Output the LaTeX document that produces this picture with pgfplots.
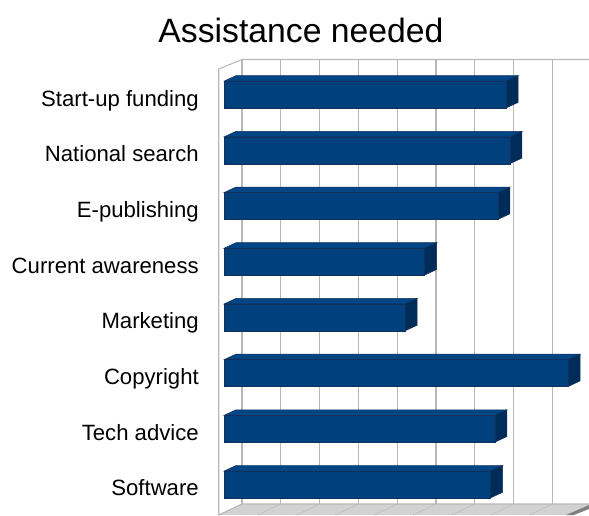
\documentclass[border=0pt]{standalone}
\usepackage{fontspec}
\setmainfont{Liberation Sans}
\usepackage{pgfplots}
\pgfplotsset{compat=1.18}
\definecolor{barfront}{HTML}{00407D}
\definecolor{bartop}{HTML}{004586}
\definecolor{barside}{HTML}{002C5A}
\definecolor{baredge}{HTML}{14305A}
\definecolor{wallline}{HTML}{B8B8B8}
\definecolor{floorfill}{HTML}{D2D2D2}
\definecolor{floorline}{HTML}{BEBEBE}
\definecolor{floordark}{HTML}{808080}
\pgfplotsset{
  topface/.style={fill=bartop,draw=baredge,line width=0.4pt},
  sideface/.style={fill=barside,draw=baredge,line width=0.4pt},
}
\begin{document}
\begin{tikzpicture}
\useasboundingbox (-163.5pt,0pt) rectangle (278.25pt,386.25pt);
\begin{axis}[
	scale only axis,
	width=278.25pt, height=342pt,
	xmin=-0.155, xmax=9.407,
	ymin=-0.548, ymax=7.639,
	axis line style={draw=none},
	major tick length=0pt,
	xtick={0.464,1.464,2.464,3.464,4.464,5.464,6.464,7.464,8.464},
	xticklabels={},
	xmajorgrids,
	grid style={wallline,line width=1pt},
	ytick={0,1,2,3,4,5,6,7},
	yticklabels={Software,Tech advice,Copyright,Marketing,Current awareness,E-publishing,National search,Start-up funding},
	typeset ticklabels with strut,
	yticklabel style={font=\fontsize{16.6}{20}\selectfont,inner sep=0pt,xshift=-14.25pt,yshift=-4.6pt},
	title={Assistance needed},
	title style={font=\fontsize{25.3}{30}\selectfont,at={(0.2237,1)},anchor=base,yshift=6pt,inner sep=0pt},
]
% floor and walls
\addplot[fill=floorfill,draw=none] coordinates {(-0.155,-0.548) (0.464,-0.35) (9.407,-0.35) (9.407,-0.386) (8.866,-0.548)} --cycle;
\addplot[fill=floordark,draw=none] coordinates {(8.815,-0.548) (9.407,-0.369) (9.407,-0.44) (9.02,-0.548)} --cycle;
\addplot[floorline,line width=0.5pt] coordinates {(1.464,-0.35) (0.871,-0.548)};
\addplot[floorline,line width=0.5pt] coordinates {(2.464,-0.35) (1.871,-0.548)};
\addplot[floorline,line width=0.5pt] coordinates {(3.464,-0.35) (2.871,-0.548)};
\addplot[floorline,line width=0.5pt] coordinates {(4.464,-0.35) (3.871,-0.548)};
\addplot[floorline,line width=0.5pt] coordinates {(5.464,-0.35) (4.871,-0.548)};
\addplot[floorline,line width=0.5pt] coordinates {(6.464,-0.35) (5.871,-0.548)};
\addplot[floorline,line width=0.5pt] coordinates {(7.464,-0.35) (6.871,-0.548)};
\addplot[floorline,line width=0.5pt] coordinates {(8.464,-0.35) (7.871,-0.548)};
\addplot[wallline,line width=0.8pt] coordinates {(-0.135,-0.548) (-0.135,7.46) (0.464,7.63) (9.407,7.63)};
\addplot[wallline,line width=0.8pt] coordinates {(-0.135,-0.548) (0.464,-0.35) (9.407,-0.35)};
% top and side faces
\addplot[topface] coordinates {(0,7.24) (0.309,7.34) (7.579,7.34) (7.27,7.24)} --cycle;
\addplot[sideface] coordinates {(7.27,7.24) (7.579,7.34) (7.579,6.86) (7.27,6.76)} --cycle;
\addplot[topface] coordinates {(0,6.24) (0.309,6.34) (7.679,6.34) (7.37,6.24)} --cycle;
\addplot[sideface] coordinates {(7.37,6.24) (7.679,6.34) (7.679,5.86) (7.37,5.76)} --cycle;
\addplot[topface] coordinates {(0,5.24) (0.309,5.34) (7.369,5.34) (7.06,5.24)} --cycle;
\addplot[sideface] coordinates {(7.06,5.24) (7.369,5.34) (7.369,4.86) (7.06,4.76)} --cycle;
\addplot[topface] coordinates {(0,4.24) (0.309,4.34) (5.479,4.34) (5.17,4.24)} --cycle;
\addplot[sideface] coordinates {(5.17,4.24) (5.479,4.34) (5.479,3.86) (5.17,3.76)} --cycle;
\addplot[topface] coordinates {(0,3.24) (0.309,3.34) (4.979,3.34) (4.67,3.24)} --cycle;
\addplot[sideface] coordinates {(4.67,3.24) (4.979,3.34) (4.979,2.86) (4.67,2.76)} --cycle;
\addplot[topface] coordinates {(0,2.24) (0.309,2.34) (9.179,2.34) (8.87,2.24)} --cycle;
\addplot[sideface] coordinates {(8.87,2.24) (9.179,2.34) (9.179,1.86) (8.87,1.76)} --cycle;
\addplot[topface] coordinates {(0,1.24) (0.309,1.34) (7.289,1.34) (6.98,1.24)} --cycle;
\addplot[sideface] coordinates {(6.98,1.24) (7.289,1.34) (7.289,0.86) (6.98,0.76)} --cycle;
\addplot[topface] coordinates {(0,0.24) (0.309,0.34) (7.179,0.34) (6.87,0.24)} --cycle;
\addplot[sideface] coordinates {(6.87,0.24) (7.179,0.34) (7.179,-0.14) (6.87,-0.24)} --cycle;
% front faces
\addplot[xbar,bar width=0.485,fill=barfront,draw=baredge,line width=0.4pt] coordinates {
	(7.27,7) (7.37,6) (7.06,5) (5.17,4) (4.67,3) (8.87,2) (6.98,1) (6.87,0)};
\end{axis}
\end{tikzpicture}
\end{document}
